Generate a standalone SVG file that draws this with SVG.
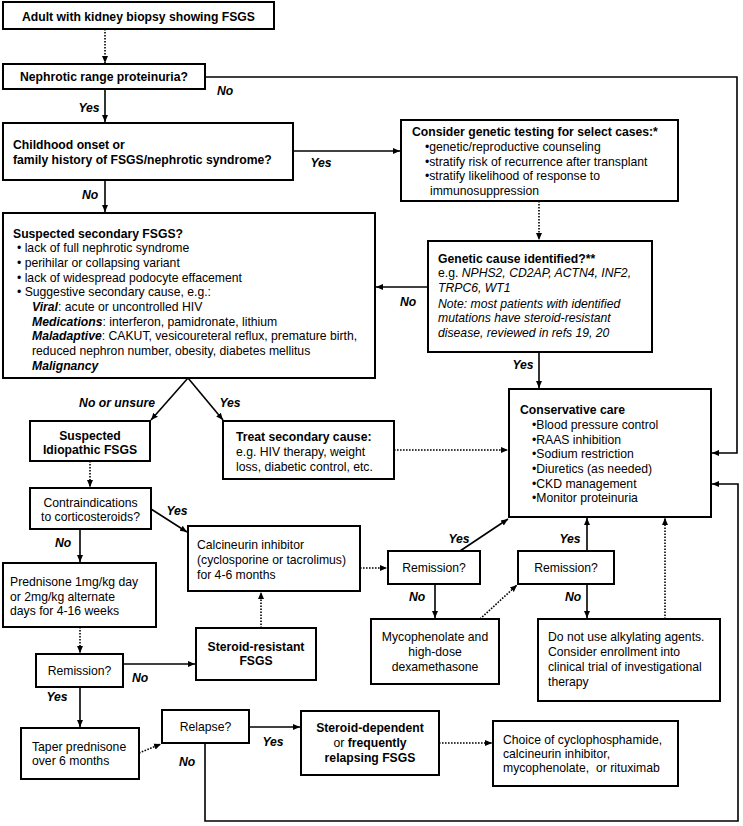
<svg xmlns="http://www.w3.org/2000/svg" width="743" height="826" viewBox="0 0 743 826">
<defs>
<marker id="ah" markerUnits="userSpaceOnUse" markerWidth="8" markerHeight="8" refX="7" refY="4" orient="auto"><path d="M0,1 L7,4 L0,7 Z" fill="#000"/></marker>
<style>
text{font-family:"Liberation Sans",Arial,sans-serif;font-size:12.2px;fill:#000}
.b{font-weight:bold}
.i{font-style:italic}
.bi{font-weight:bold;font-style:italic}
.c{text-anchor:middle}
rect{fill:#fff;stroke:#000;stroke-width:2}
.s{fill:none;stroke:#000;stroke-width:1.6;marker-end:url(#ah)}
.d{fill:none;stroke:#000;stroke-width:1.6;stroke-dasharray:1.6,1.4;marker-end:url(#ah)}
</style>
</defs>
<rect x="0" y="0" width="743" height="826" style="fill:#fff;stroke:none"/>
<g id="connectors">
<path class="d" d="M105,29 V63"/>
<path class="s" d="M105,89 V122"/>
<path class="s" d="M205,77 H737 V453 H712"/>
<path class="s" d="M293,151 H400"/>
<path class="s" d="M105,180 V212"/>
<path class="d" d="M539,201 V240"/>
<path class="s" d="M428,287 H376"/>
<path class="s" d="M539,352 V388"/>
<path class="s" d="M188,378 L151,420"/>
<path class="s" d="M188,378 L223,420"/>
<path class="d" d="M394,450 H508"/>
<path class="d" d="M90,461 V487"/>
<path class="s" d="M151,509 L187,532"/>
<path class="s" d="M80,529 V562"/>
<path class="d" d="M80,627 V653"/>
<path class="s" d="M123,664 H195"/>
<path class="d" d="M261,628 V592"/>
<path class="d" d="M360,568 H387"/>
<path class="s" d="M460,551 L508,519"/>
<path class="s" d="M435,584 V618"/>
<path class="d" d="M480,619 L517,585"/>
<path class="s" d="M587,551 V518"/>
<path class="s" d="M587,584 V618"/>
<path class="d" d="M665,619 V518"/>
<path class="s" d="M80,687 V727"/>
<path class="d" d="M139,753 L161,744"/>
<path class="s" d="M249,727 H300"/>
<path class="s" d="M205,743 V821 H738 V484 H712"/>
<path class="d" d="M439,743 H492"/>
</g>
<g id="labels">
<text class="bi c" x="225" y="95">No</text>
<text class="bi c" x="89" y="112">Yes</text>
<text class="bi c" x="321" y="167">Yes</text>
<text class="bi c" x="90" y="199">No</text>
<text class="bi c" x="408" y="306">No</text>
<text class="bi c" x="523" y="369">Yes</text>
<text class="bi c" x="117" y="407">No or unsure</text>
<text class="bi c" x="230" y="407">Yes</text>
<text class="bi c" x="177" y="515">Yes</text>
<text class="bi c" x="63" y="547">No</text>
<text class="bi c" x="459" y="543">Yes</text>
<text class="bi c" x="417" y="601">No</text>
<text class="bi c" x="570" y="543">Yes</text>
<text class="bi c" x="573" y="601">No</text>
<text class="bi c" x="140" y="682">No</text>
<text class="bi c" x="57" y="701">Yes</text>
<text class="bi c" x="273" y="746">Yes</text>
<text class="bi c" x="187" y="766">No</text>
</g>
<g id="n-adult">
<rect x="3" y="2" width="271" height="27"/>
<text class="b c" x="138.5" y="21">Adult with kidney biopsy showing FSGS</text>
</g>
<g id="n-nephrotic">
<rect x="3" y="64" width="202" height="25"/>
<text class="b c" x="104" y="81">Nephrotic range proteinuria?</text>
</g>
<g id="n-childhood">
<rect x="3" y="123" width="290" height="57"/>
<text class="b" x="13" y="149">Childhood onset or</text>
<text class="b" x="13" y="164">family history of FSGS/nephrotic syndrome?</text>
</g>
<g id="n-genetic-testing">
<rect x="401" y="120" width="277" height="81"/>
<text class="b" x="412" y="136">Consider genetic testing for select cases:*</text>
<text x="425" y="151">•genetic/reproductive counseling</text>
<text x="425" y="166">•stratify risk of recurrence after transplant</text>
<text x="425" y="180">•stratify likelihood of response to</text>
<text x="430" y="195">immunosuppression</text>
</g>
<g id="n-genetic-cause">
<rect x="428" y="241" width="224" height="111"/>
<text class="b" x="438" y="263">Genetic cause identified?**</text>
<text x="438" y="277">e.g. <tspan class="i">NPHS2, CD2AP, ACTN4, INF2,</tspan></text>
<text class="i" x="438" y="292">TRPC6, WT1</text>
<text class="i" x="438" y="308">Note: most patients with identified</text>
<text class="i" x="438" y="322">mutations have steroid-resistant</text>
<text class="i" x="438" y="337">disease, reviewed in refs 19, 20</text>
</g>
<g id="n-secondary">
<rect x="3" y="213" width="372" height="165"/>
<text class="b" x="13" y="238">Suspected secondary FSGS?</text>
<text x="17" y="252">• lack of full nephrotic syndrome</text>
<text x="17" y="267">• perihilar or collapsing variant</text>
<text x="17" y="282">• lack of widespread podocyte effacement</text>
<text x="17" y="296">• Suggestive secondary cause, e.g.:</text>
<text x="32" y="311"><tspan class="bi">Viral</tspan>: acute or uncontrolled HIV</text>
<text x="32" y="326"><tspan class="bi">Medications</tspan>: interferon, pamidronate, lithium</text>
<text x="32" y="340"><tspan class="bi">Maladaptive</tspan>: CAKUT, vesicoureteral reflux, premature birth,</text>
<text x="32" y="355">reduced nephron number, obesity, diabetes mellitus</text>
<text class="bi" x="32" y="370">Malignancy</text>
</g>
<g id="n-conservative">
<rect x="509" y="389" width="202" height="128"/>
<text class="b" x="520" y="414">Conservative care</text>
<text x="532" y="429">•Blood pressure control</text>
<text x="532" y="444">•RAAS inhibition</text>
<text x="532" y="458">•Sodium restriction</text>
<text x="532" y="473">•Diuretics (as needed)</text>
<text x="532" y="488">•CKD management</text>
<text x="532" y="502">•Monitor proteinuria</text>
</g>
<g id="n-idiopathic">
<rect x="30" y="421" width="120" height="40"/>
<text class="b c" x="90" y="440">Suspected</text>
<text class="b c" x="90" y="454">Idiopathic FSGS</text>
</g>
<g id="n-treat">
<rect x="223" y="421" width="171" height="58"/>
<text class="b" x="236" y="441">Treat secondary cause:</text>
<text x="236" y="456">e.g. HIV therapy, weight</text>
<text x="236" y="471">loss, diabetic control, etc.</text>
</g>
<g id="n-contra">
<rect x="30" y="488" width="121" height="41"/>
<text class="c" x="90.5" y="507">Contraindications</text>
<text class="c" x="90.5" y="521">to corticosteroids?</text>
</g>
<g id="n-calcineurin">
<rect x="188" y="526" width="172" height="65"/>
<text x="197" y="549">Calcineurin inhibitor</text>
<text x="197" y="564">(cyclosporine or tacrolimus)</text>
<text x="197" y="579">for 4-6 months</text>
</g>
<g id="n-prednisone">
<rect x="3" y="563" width="153" height="64"/>
<text x="10" y="586">Prednisone 1mg/kg day</text>
<text x="10" y="601">or 2mg/kg alternate</text>
<text x="10" y="615">days for 4-16 weeks</text>
</g>
<g id="n-remission-mid">
<rect x="388" y="551" width="92" height="33"/>
<text class="c" x="434" y="572">Remission?</text>
</g>
<g id="n-remission-right">
<rect x="518" y="551" width="96" height="33"/>
<text class="c" x="566" y="572">Remission?</text>
</g>
<g id="n-mycophenolate">
<rect x="371" y="619" width="128" height="65"/>
<text class="c" x="435" y="641">Mycophenolate and</text>
<text class="c" x="435" y="656">high-dose</text>
<text class="c" x="435" y="671">dexamethasone</text>
</g>
<g id="n-donot">
<rect x="538" y="619" width="182" height="82"/>
<text x="548" y="641">Do not use alkylating agents.</text>
<text x="548" y="656">Consider enrollment into</text>
<text x="548" y="671">clinical trial of investigational</text>
<text x="548" y="686">therapy</text>
</g>
<g id="n-steroid-resistant">
<rect x="196" y="628" width="120" height="52"/>
<text class="b c" x="256" y="651">Steroid-resistant</text>
<text class="b c" x="256" y="665">FSGS</text>
</g>
<g id="n-remission-left">
<rect x="36" y="654" width="87" height="33"/>
<text class="c" x="79.5" y="675">Remission?</text>
</g>
<g id="n-taper">
<rect x="21" y="728" width="118" height="51"/>
<text x="32" y="751">Taper prednisone</text>
<text x="32" y="765">over 6 months</text>
</g>
<g id="n-relapse">
<rect x="162" y="710" width="87" height="33"/>
<text class="c" x="205.5" y="731">Relapse?</text>
</g>
<g id="n-steroid-dependent">
<rect x="301" y="711" width="138" height="64"/>
<text class="b c" x="370" y="732">Steroid-dependent</text>
<text class="c" x="370" y="747">or <tspan class="b">frequently</tspan></text>
<text class="b c" x="370" y="762">relapsing FSGS</text>
</g>
<g id="n-choice">
<rect x="493" y="721" width="185" height="65"/>
<text x="503" y="744">Choice of cyclophosphamide,</text>
<text x="503" y="758">calcineurin inhibitor,</text>
<text x="503" y="772">mycophenolate,<tspan dx="7">or rituximab</tspan></text>
</g>
</svg>
